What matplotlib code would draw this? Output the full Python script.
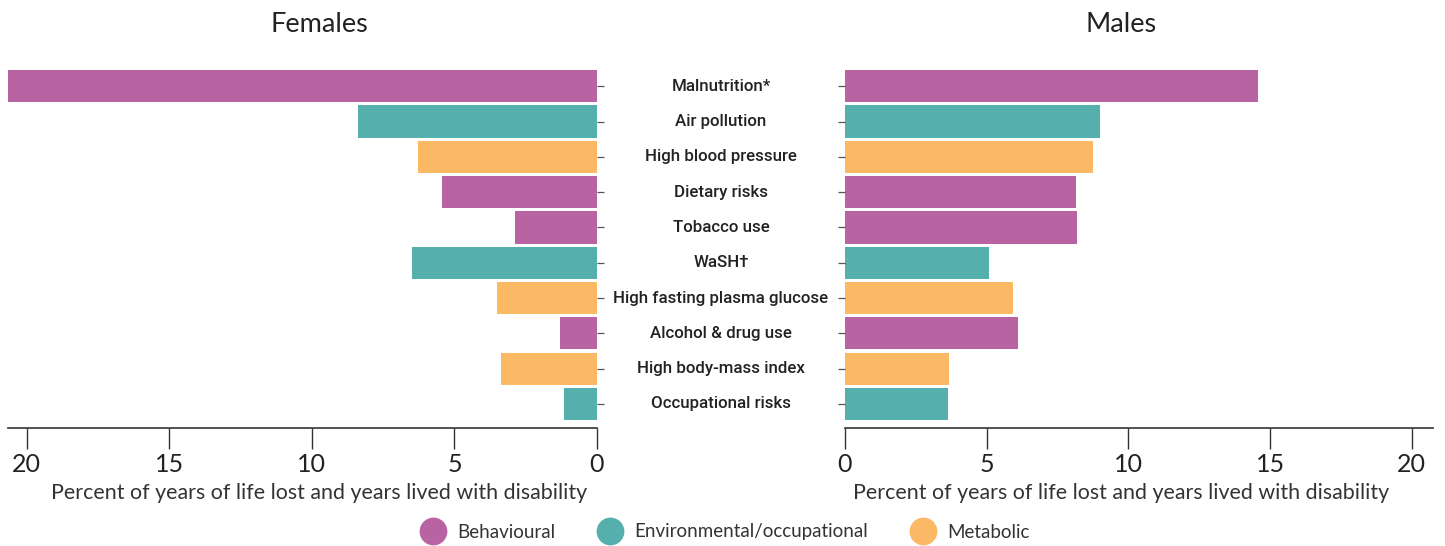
import numpy as np
import matplotlib.pyplot as plt
from matplotlib.lines import Line2D

RISKS = ["Malnutrition*", "Air pollution", "High blood pressure", "Dietary risks", "Tobacco use",
         "WaSH\u2020", "High fasting plasma glucose", "Alcohol & drug use", "High body-mass index",
         "Occupational risks"]
GROUP = ["Behavioural", "Environmental/occupational", "Metabolic", "Behavioural", "Behavioural",
         "Environmental/occupational", "Metabolic", "Behavioural", "Metabolic", "Environmental/occupational"]
FEMALES = [20.65, 8.37, 6.27, 5.45, 2.88, 6.47, 3.52, 1.30, 3.35, 1.16]
MALES = [14.57, 9.0, 8.75, 8.15, 8.18, 5.08, 5.93, 6.10, 3.67, 3.63]
GROUP_ORDER = ["Behavioural", "Environmental/occupational", "Metabolic"]
GROUP_COLOR = {"Behavioural": "#B964A2", "Environmental/occupational": "#55AFAC", "Metabolic": "#FBB965"}
XTICKS = [0, 5, 10, 15, 20]
XLABEL = "Percent of years of life lost and years lived with disability"

plt.rcParams["font.family"] = ["Lato", "DejaVu Sans"]
W, H = 1445, 546
fig = plt.figure(figsize=(W / 100, H / 100), dpi=100)


def px_axes(x0, x1, y0, y1):
    return fig.add_axes([x0 / W, 1 - y1 / H, (x1 - x0) / W, (y1 - y0) / H])


axL = px_axes(8, 597, 70, 428)
axR = px_axes(845, 1433, 70, 428)
y = np.arange(len(RISKS))[::-1]
colors = [GROUP_COLOR[g] for g in GROUP]

for ax, vals in ((axL, FEMALES), (axR, MALES)):
    ax.barh(y, vals, height=0.91, color=colors, linewidth=0)
    ax.set_ylim(-0.68, 9.46)
    ax.set_yticks(y)
    ax.set_yticklabels([])
    for s in ("top", "left", "right"):
        ax.spines[s].set_visible(False)
    ax.spines["bottom"].set_color("#333333")
    ax.spines["bottom"].set_linewidth(1.2)
    ax.set_xticks(XTICKS)
    ax.tick_params(axis="x", length=15, width=1.0, color="#333333", labelsize=18,
                   labelcolor="#222222", pad=3)
    ax.tick_params(axis="y", length=5, width=0.9, color="#555555")

axL.set_xlim(20.65, 0)
axL.yaxis.tick_right()
axR.set_xlim(0, 20.75)
axR.yaxis.tick_left()

for yi, name in zip(y, RISKS):
    yy = axL.transData.transform((0, yi))[1]
    fig.text(721 / W, yy / H, name, ha="center", va="center", fontsize=12.2,
             family=["Roboto", "DejaVu Sans"], fontweight="medium", color="#222222")

for xc, title in ((319, "Females"), (1121, "Males")):
    fig.text(xc / W, 1 - 25 / H, title, ha="center", va="center", fontsize=19.5, color="#222222")
    fig.text(xc / W, 1 - 493 / H, XLABEL, ha="center", va="center", fontsize=15.4, color="#333333")

handles = [Line2D([], [], marker="o", linestyle="", markersize=20, markerfacecolor=GROUP_COLOR[g],
                  markeredgewidth=0, label=g) for g in GROUP_ORDER]
fig.legend(handles=handles, loc="center", bbox_to_anchor=(722 / W, 1 - 532 / H), ncol=3,
           frameon=False, fontsize=13.5, handletextpad=0.3, columnspacing=1.9,
           labelcolor="#333333")

fig.savefig("out.png", dpi=100)
